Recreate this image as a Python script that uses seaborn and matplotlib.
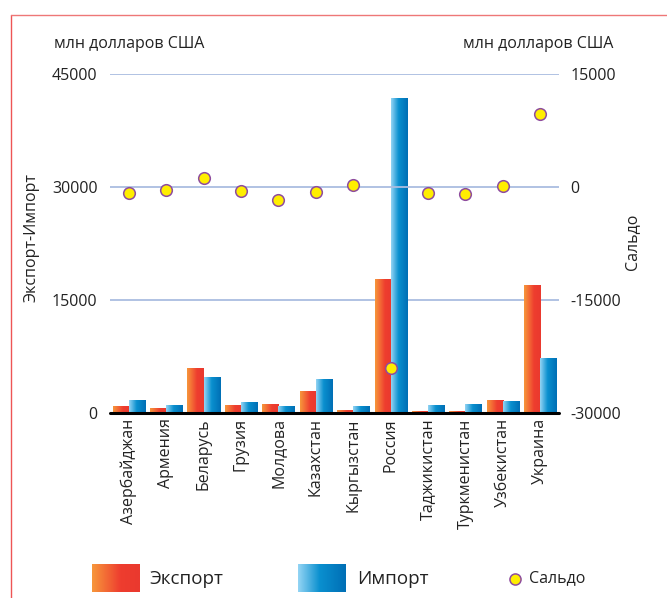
import numpy as np
import pandas as pd
import matplotlib
matplotlib.use("Agg")
import matplotlib.pyplot as plt
import seaborn as sns
from matplotlib.colors import LinearSegmentedColormap
from matplotlib.lines import Line2D

countries = ['Азербайджан', 'Армения', 'Беларусь', 'Грузия', 'Молдова', 'Казахстан',
             'Кыргызстан', 'Россия', 'Таджикистан', 'Туркменистан', 'Узбекистан', 'Украина']
export_vals = [890, 620, 5950, 1020, 1160, 2890, 360, 17780, 230, 230, 1690, 16980]
import_vals = [1690, 1020, 4750, 1420, 890, 4480, 890, 41800, 1020, 1160, 1550, 7270]
saldo_vals = [-800, -440, 1160, -580, -1690, -670, 320, -24100, -840, -930, 130, 9700]
left_ticks = [0, 15000, 30000, 45000]
right_ticks = [-30000, -15000, 0, 15000]

sns.set_theme(style="white")
plt.rcParams['font.family'] = ['Open Sans', 'DejaVu Sans']

df = pd.DataFrame({
    'Страна': countries * 2,
    'Значение': export_vals + import_vals,
    'Поток': ['Экспорт'] * len(countries) + ['Импорт'] * len(countries),
})

fig = plt.figure(figsize=(6.67, 5.98), dpi=100)
ax = fig.add_axes([110 / 667, 1 - 412.7 / 598, 449 / 667, (412.7 - 74.3) / 598])

sns.barplot(data=df, x='Страна', y='Значение', hue='Поток', hue_order=['Экспорт', 'Импорт'],
            order=countries, width=0.86, gap=0, legend=False, ax=ax, zorder=2, errorbar=None)

exp_cmap = LinearSegmentedColormap.from_list('exp', [(0, '#f7963b'), (0.6, '#ee3d2f'), (1, '#ea392e')])
imp_cmap = LinearSegmentedColormap.from_list('imp', [(0, '#93d4f4'), (0.45, '#0a90cf'), (1, '#006fb5')])
grad = np.linspace(0, 1, 64).reshape(1, -1)

for cont, cmap in zip(ax.containers, [exp_cmap, imp_cmap]):
    for bar in cont:
        x0, y0 = bar.get_x(), bar.get_y()
        w, h = bar.get_width(), bar.get_height()
        im = ax.imshow(grad, extent=[x0, x0 + w, y0, y0 + h], aspect='auto', cmap=cmap,
                       zorder=2, interpolation='bilinear')
        im.set_clip_path(bar)
        bar.set_facecolor('none')
        bar.set_edgecolor('none')

ax.set_xlim(-0.5, len(countries) - 0.5)
ax.set_ylim(0, 45000)
ax.set_yticks(left_ticks)
ax.set_yticklabels([str(t) for t in left_ticks], fontsize=11.5, color='#222222')
for t in [15000, 45000]:
    ax.axhline(t, color='#aabde0', lw=1.3, zorder=1)
ax.axhline(0, color='black', lw=2.2, zorder=4, clip_on=False)
ax.tick_params(axis='both', length=0, pad=9)
ax.tick_params(axis='x', pad=4)
ax.set_xticks(range(len(countries)))
ax.set_xticklabels(countries, rotation=90, fontsize=11.5, color='#222222')
for s in ax.spines.values():
    s.set_visible(False)
ax.set_xlabel('')
ax.set_ylabel('')
ax.patch.set_alpha(0)

ax2 = ax.twinx()
ax2.set_ylim(-30000, 15000)
ax2.axhline(0, color='#aabde0', lw=1.3, zorder=1)
sns.scatterplot(x=np.arange(len(countries)), y=saldo_vals, ax=ax2, s=70, color='#ffee00',
                edgecolor='#8e4c9e', linewidth=1.1, zorder=5, legend=False)
ax2.set_yticks(right_ticks)
ax2.set_yticklabels([str(t) for t in right_ticks], fontsize=11.5, color='#222222')
ax2.tick_params(axis='y', length=0, pad=8)
for s in ax2.spines.values():
    s.set_visible(False)
ax2.set_xlim(-0.5, len(countries) - 0.5)

fig.text(32 / 667, 1 - 238 / 598, 'Экспорт-Импорт', rotation=90, ha='center', va='center',
         fontsize=11.5, color='#222222')
fig.text(632 / 667, 1 - 242 / 598, 'Сальдо', rotation=90, ha='center', va='center',
         fontsize=11.5, color='#222222')
fig.text(54 / 667, 1 - 44 / 598, 'млн долларов США', ha='left', va='center', fontsize=11.5, color='#222222')
fig.text(613 / 667, 1 - 44 / 598, 'млн долларов США', ha='right', va='center', fontsize=11.5, color='#222222')

# legend
for xl, cmap, label, xt in [(92, exp_cmap, 'Экспорт', 149), (298, imp_cmap, 'Импорт', 357)]:
    lax = fig.add_axes([xl / 667, 1 - 592 / 598, 48 / 667, 28 / 598])
    lax.imshow(grad, aspect='auto', cmap=cmap, interpolation='bilinear')
    lax.axis('off')
    fig.text(xt / 667, 1 - 579 / 598, label, ha='left', va='center', fontsize=13.5, color='#222222')
fig.add_artist(Line2D([515 / 667], [1 - 579 / 598], marker='o', markersize=8, color='#ffee00',
                      markeredgecolor='#8e4c9e', markeredgewidth=1.1, linestyle='none'))
fig.text(529 / 667, 1 - 578 / 598, 'Сальдо', ha='left', va='center', fontsize=11.5, color='#222222')

# frame
fig.add_artist(Line2D([11 / 667, 11 / 667], [0, 1 - 15 / 598], color='#ee5555', lw=1.0))
fig.add_artist(Line2D([11 / 667, 1], [1 - 15 / 598, 1 - 15 / 598], color='#ee7777', lw=1.0))

fig.savefig('out.png', dpi=100)
